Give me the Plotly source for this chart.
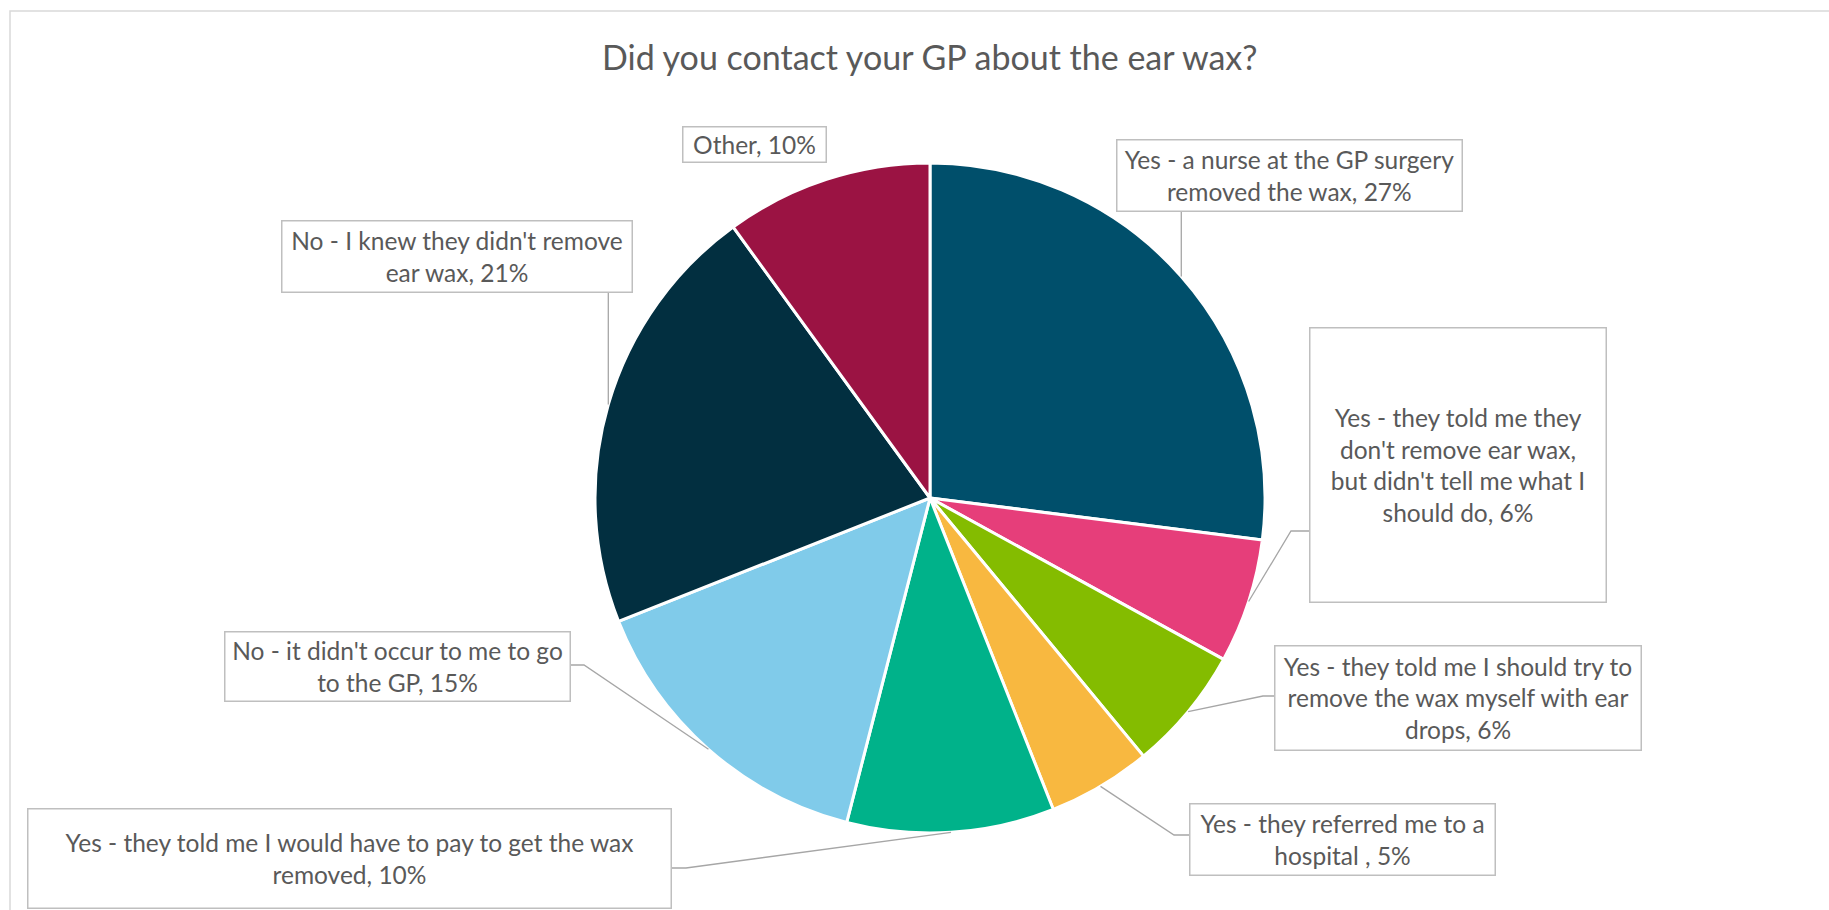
import math
import plotly.graph_objects as go

# ---------------- data ----------------
categories = [
    "Yes - a nurse at the GP surgery removed the wax",
    "Yes - they told me they don't remove ear wax, but didn't tell me what I should do",
    "Yes - they told me I should try to remove the wax myself with ear drops",
    "Yes - they referred me to a hospital ",
    "Yes - they told me I would have to pay to get the wax removed",
    "No - it didn't occur to me to go to the GP",
    "No - I knew they didn't remove ear wax",
    "Other",
]
wrapped_names = [
    "Yes - a nurse at the GP surgery<br>removed the wax",
    "Yes - they told me they<br>don't remove ear wax,<br>but didn't tell me what I<br>should do",
    "Yes - they told me I should try to<br>remove the wax myself with ear<br>drops",
    "Yes - they referred me to a<br>hospital ",
    "Yes - they told me I would have to pay to get the wax<br>removed",
    "No - it didn't occur to me to go<br>to the GP",
    "No - I knew they didn't remove<br>ear wax",
    "Other",
]
values = [27, 6, 6, 5, 10, 15, 21, 10]
colors = ["#004F6B", "#E63E7A", "#84BC00", "#F8B840", "#00B28A", "#80CBEA", "#022F40", "#9B1343"]
title_text = "Did you contact your GP about the ear wax?"

# ---------------- layout (pixels) ----------------
W, H = 1829, 910
CX, CY, R = 930, 498, 335
FONT = "Lato"
TXT = "#595959"

# label boxes: (x0, x1, y0, y1) in pixels from top-left
boxes = [
    (1116, 1462, 140, 212),
    (1309, 1606, 328, 603),
    (1274, 1641, 645, 750),
    (1189, 1495, 803, 875),
    (27, 671, 808, 908),
    (224, 570, 631, 701),
    (282, 633, 220, 292),
    (682, 826, 126, 162),
]
# leader styles
elbows = [
    ("vertical", None),
    ("elbow", (1291, 531, 1309)),
    ("elbow", (1263, 696, 1274)),
    ("elbow", (1174, 835, 1189)),
    ("elbow", (686, 868, 671)),
    ("elbow", (584, 665, 570)),
    ("vertical", None),
    ("none", None),
]


def px(x):
    return x / W


def py(y):
    return 1 - y / H


fig = go.Figure(
    go.Pie(
        labels=categories,
        values=values,
        sort=False,
        direction="clockwise",
        rotation=0,
        textposition="none",
        marker=dict(colors=colors, line=dict(color="white", width=3)),
        domain=dict(x=[px(CX - R), px(CX + R)], y=[py(CY + R), py(CY - R)]),
        showlegend=False,
        hoverinfo="label+percent",
    )
)

annotations = []
shapes = []
total = sum(values)
cum = 0
line_style = dict(color="#A6A6A6", width=1.3)
for i, v in enumerate(values):
    mid = (cum + v / 2) / total * 2 * math.pi
    cum += v
    ex = CX + R * math.sin(mid)
    ey = CY - R * math.cos(mid)
    x0, x1, y0, y1 = boxes[i]
    annotations.append(
        dict(
            x=px((x0 + x1) / 2), y=py((y0 + y1) / 2), xref="paper", yref="paper",
            xanchor="center", yanchor="middle",
            text=f"{wrapped_names[i]}, {v}%",
            showarrow=False, align="center", valign="middle",
            width=x1 - x0 - 2, height=y1 - y0 - 2,
            bgcolor="white", bordercolor="#BFBFBF", borderwidth=1.5, borderpad=0,
            font=dict(family=FONT, size=24.5, color=TXT),
        )
    )
    kind, e = elbows[i]
    if kind == "vertical":
        shapes.append(dict(type="line", xref="paper", yref="paper",
                           x0=px(ex), y0=py(ey), x1=px(ex), y1=py(y1 if ey > y1 else y0),
                           line=line_style))
    elif kind == "elbow":
        mx, my, bx = e
        shapes.append(dict(type="path", xref="paper", yref="paper",
                           path=f"M {px(ex)},{py(ey)} L {px(mx)},{py(my)} L {px(bx)},{py(my)}",
                           line=line_style))

# chart area border (top and left visible)
shapes.append(dict(type="path", xref="paper", yref="paper",
                   path=f"M {px(10)},{py(911)} L {px(10)},{py(11)} L {px(1830)},{py(11)}",
                   line=dict(color="#D9D9D9", width=1.5), layer="below"))

annotations.append(
    dict(x=px(CX), y=py(56), xref="paper", yref="paper", xanchor="center", yanchor="middle",
         text=title_text, showarrow=False,
         font=dict(family=FONT, size=34, color=TXT))
)

fig.update_layout(
    width=W, height=H,
    margin=dict(l=0, r=0, t=0, b=0),
    paper_bgcolor="white", plot_bgcolor="white",
    annotations=annotations, shapes=shapes,
)

fig.write_html("out.html", config={"displayModeBar": False})
